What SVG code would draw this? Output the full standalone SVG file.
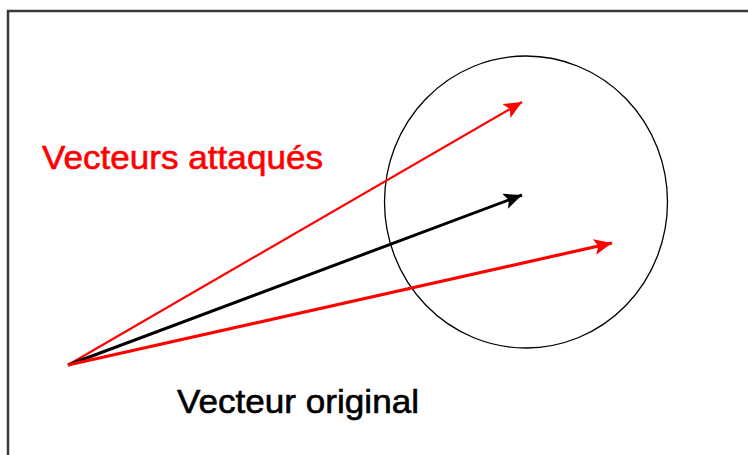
<svg xmlns="http://www.w3.org/2000/svg" width="748" height="455" viewBox="0 0 748 455">
<style>
.lbl{font-family:"Liberation Sans",Arial,sans-serif;font-size:33px;stroke-width:0.6px}
</style>
<defs>
<marker id="ar" markerUnits="userSpaceOnUse" markerWidth="22" markerHeight="18" refX="18" refY="8" orient="auto"><path d="M0,0 L18,8 L0,16 L4,8 Z" fill="#ff0000"/></marker>
<marker id="ab" markerUnits="userSpaceOnUse" markerWidth="22" markerHeight="18" refX="18" refY="8" orient="auto"><path d="M0,0 L18,8 L0,16 L4,8 Z" fill="#000"/></marker>
</defs>
<rect width="748" height="455" fill="#fff"/>
<g id="frame"><path d="M8,455 V11 H748" fill="none" stroke="#3a3a3a" stroke-width="2.5"/></g>
<g id="circle"><ellipse cx="526" cy="202" rx="141.5" ry="146" fill="none" stroke="#000" stroke-width="1.3"/></g>
<g id="connectors">
<line x1="68" y1="365" x2="522" y2="102" stroke="#ff0000" stroke-width="2.2" marker-end="url(#ar)"/>
<line x1="68" y1="365" x2="522" y2="195" stroke="#000" stroke-width="3" marker-end="url(#ab)"/>
<line x1="68" y1="365" x2="612" y2="243" stroke="#ff0000" stroke-width="3.2" marker-end="url(#ar)"/>
</g>
<g id="label-attaques"><text class="lbl" x="42" y="169" fill="#ff0000" stroke="#ff0000" textLength="281" lengthAdjust="spacingAndGlyphs">Vecteurs attaqués</text></g>
<g id="label-original"><text class="lbl" x="177" y="413" fill="#000" stroke="#000" textLength="242" lengthAdjust="spacingAndGlyphs">Vecteur original</text></g>
</svg>
